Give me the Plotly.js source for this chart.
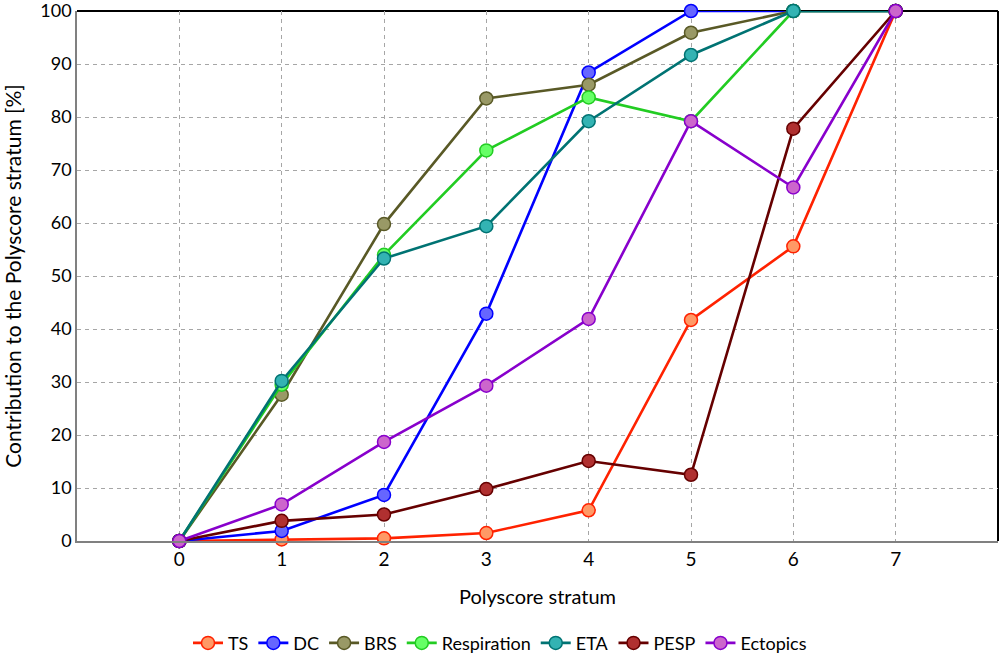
<!DOCTYPE html>
<html>
<head>
<meta charset="utf-8">
<script src="https://cdn.plot.ly/plotly-3.0.1.min.js"></script>
<style>
  body { margin: 0; background: #fff; }
  #plot { width: 1000px; height: 655px; }
</style>
</head>
<body>
<div id="plot"></div>
<script>
// Polyscore strata on the x axis
var strata = [0, 1, 2, 3, 4, 5, 6, 7];

// Contribution to each stratum [%], one array per parameter
var ts          = [0, 0.3, 0.5, 1.5, 5.8, 41.7, 55.6, 100];
var dc          = [0, 1.9, 8.7, 42.9, 88.4, 100, 100, 100];
var brs         = [0, 27.6, 59.8, 83.5, 86.1, 95.9, 100, 100];
var respiration = [0, 29.5, 54.0, 73.7, 83.7, 79.2, 100, 100];
var eta         = [0, 30.2, 53.3, 59.4, 79.2, 91.7, 100, 100];
var pesp        = [0, 3.8, 5.0, 9.8, 15.1, 12.5, 77.8, 100];
var ectopics    = [0, 6.9, 18.7, 29.3, 41.9, 79.2, 66.7, 100];

var yTicks = [0, 10, 20, 30, 40, 50, 60, 70, 80, 90, 100];

// one helper so every series gets the same line + marker look
function series(name, y, lineColor, fillColor) {
  return {
    x: strata,
    y: y,
    name: name,
    type: 'scatter',
    mode: 'lines+markers',
    line: { color: lineColor, width: 2.6 },
    marker: { size: 13, color: fillColor, line: { color: lineColor, width: 1.5 } },
    cliponaxis: false
  };
}

var traceData = [
  series('TS', ts, '#ff2200', '#ff9966'),
  series('DC', dc, '#0000ff', '#6666ff'),
  series('BRS', brs, '#595926', '#999966'),
  series('Respiration', respiration, '#22cc22', '#66ff66'),
  series('ETA', eta, '#007373', '#33b3b3'),
  series('PESP', pesp, '#660000', '#b03030'),
  series('Ectopics', ectopics, '#8800cc', '#cc66cc')
];

var fam = 'Lato, "Open Sans", sans-serif';
var tickFont = { family: fam, size: 19, color: '#000' };

var layout = {
  width: 1000,
  height: 655,
  margin: { l: 77, r: 2, t: 11, b: 114 },
  paper_bgcolor: '#fff',
  plot_bgcolor: '#fff',
  font: tickFont,
  showlegend: true,
  legend: {
    orientation: 'h',
    xref: 'container',
    yref: 'container',
    x: 0.5,
    xanchor: 'center',
    y: 0.018,
    yanchor: 'middle',
    font: { family: fam, size: 18, color: '#000' },
    itemwidth: 30,
    tracegroupgap: 0
  },
  xaxis: {
    range: [-1, 8],
    tickvals: strata,
    ticks: '',
    showgrid: true,
    gridcolor: '#a6a6a6',
    griddash: '4px,4px',
    gridwidth: 1.2,
    zeroline: false,
    showline: true,
    linecolor: '#808080',
    linewidth: 1.5,
    tickfont: tickFont,
    title: {
      text: 'Polyscore stratum',
      font: { family: fam, size: 20, color: '#000' },
      standoff: 21
    }
  },
  yaxis: {
    range: [0, 100],
    tickvals: yTicks,
    ticks: '',
    ticklabeloverflow: 'allow',
    showgrid: true,
    gridcolor: '#a6a6a6',
    griddash: '4px,4px',
    gridwidth: 1.2,
    zeroline: false,
    showline: true,
    linecolor: '#808080',
    linewidth: 1.5,
    tickfont: { family: fam, size: 18, color: '#000' },
    title: {
      text: 'Contribution to the Polyscore stratum [%]',
      font: { family: fam, size: 21, color: '#000' },
      standoff: 20
    }
  },
  // top and right frame are black in the original
  shapes: [
    { type: 'line', xref: 'paper', yref: 'paper', x0: 0, x1: 1, y0: 1, y1: 1,
      line: { color: '#000', width: 2 }, layer: 'below' },
    { type: 'line', xref: 'paper', yref: 'paper', x0: 1, x1: 1, y0: 0, y1: 1,
      line: { color: '#000', width: 2 }, layer: 'below' }
  ]
};

Plotly.newPlot('plot', traceData, layout, { displayModeBar: false });
</script>
</body>
</html>
